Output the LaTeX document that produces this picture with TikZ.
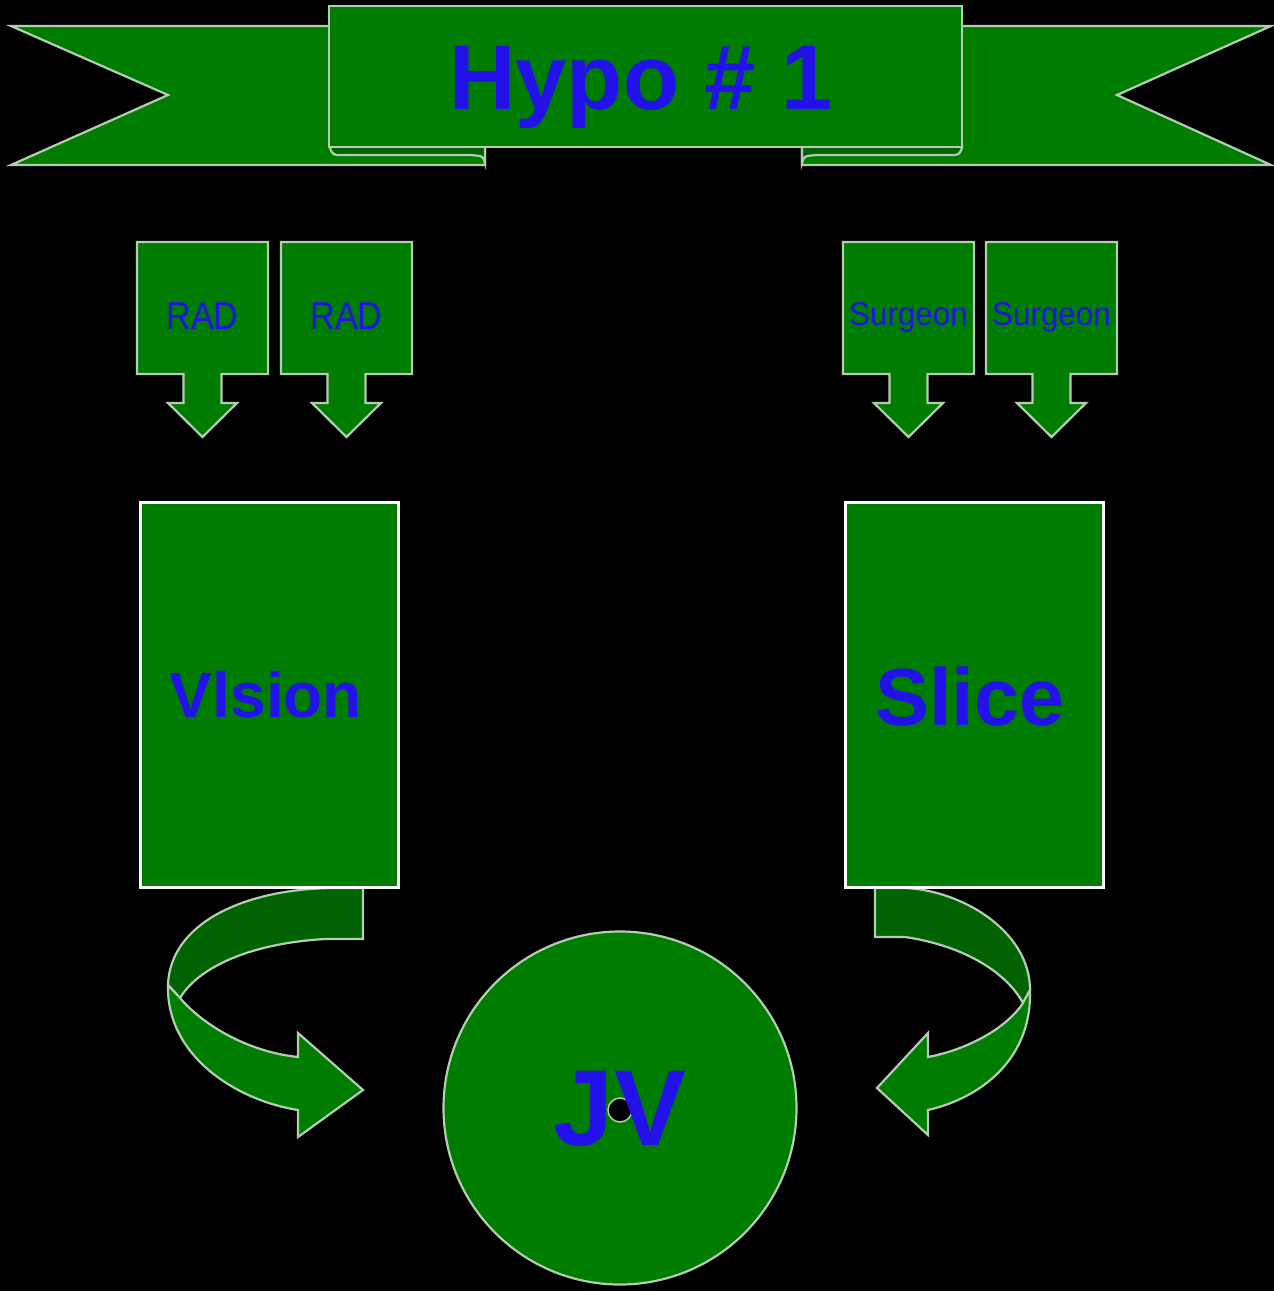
\documentclass[tikz,border=0pt]{standalone}
\usepackage{fontspec}
\usepackage{graphicx}
\setmainfont{Liberation Sans}
\definecolor{leaf}{RGB}{0,125,0}
\definecolor{leafdark}{RGB}{0,98,0}
\definecolor{rim}{RGB}{178,205,178}
\definecolor{ink}{RGB}{34,17,232}
\tikzset{
  panel/.style={fill=leaf, draw=rim, line width=2.2pt, line join=miter},
  back/.style={fill=leafdark, draw=rim, line width=2.2pt, line join=miter},
  bigbox/.style={rectangle, fill=leaf, draw=white, line width=3pt,
    minimum width=258pt, minimum height=385pt, inner sep=0pt},
  ink text/.style={text=ink, inner sep=0pt},
}
\newcommand{\fs}[1]{\fontsize{#1}{#1}\selectfont}
% down-pointing callout box; #1 = left edge, #2 = node name, #3 = label, #4 = label baseline
\newcommand{\callout}[4]{%
  \begin{scope}[shift={(#1,0)}]
    \filldraw[panel] (0,242) -- (131,242) -- (131,374) -- (84.5,374) -- (84.5,403)
      -- (100,403) -- (65.5,437) -- (31,403) -- (46.5,403) -- (46.5,374) -- (0,374) -- cycle;
    \node[ink text, anchor=base] (#2) at (65.5,#4) {#3};
  \end{scope}}
\begin{document}
\begin{tikzpicture}[x=1pt, y=-1pt]
  \useasboundingbox (0,0) rectangle (1274,1291);
  \fill[black] (0,0) rectangle (1274,1291);

  % ribbon banner: tails, folds, front band
  \filldraw[panel] (11,26) -- (485,26) -- (485,165) -- (11,165) -- (168,95) -- cycle;
  \filldraw[panel] (1271,26) -- (802,26) -- (802,165) -- (1271,165) -- (1117,95) -- cycle;
  \filldraw[back] (330,146) -- (485,146) -- (485,163) .. controls (483,156) .. (470,155)
    -- (342,155) .. controls (333,155) .. (330,148) -- cycle;
  \filldraw[back] (962,146) -- (802,146) -- (802,163) .. controls (804,156) .. (817,155)
    -- (950,155) .. controls (959,155) .. (962,148) -- cycle;
  \node[rectangle, fill=leaf, draw=rim, line width=2.2pt, minimum width=633pt,
    minimum height=141pt, inner sep=0pt] (band) at (645.5,76.5) {};
  \node[ink text, anchor=base] (title) at (641,109) {\fs{92}\bfseries Hypo \# 1};

  % callouts
  \callout{137}{rad1}{\scalebox{0.88}[1]{\fs{39}RAD}}{329}
  \callout{281}{rad2}{\scalebox{0.88}[1]{\fs{39}RAD}}{329}
  \callout{843}{surg1}{\scalebox{0.95}[1]{\fs{33}Surgeon}}{325}
  \callout{986}{surg2}{\scalebox{0.95}[1]{\fs{33}Surgeon}}{325}

  % curved arrow on the left
  \filldraw[back] (363,888) -- (363,939) -- (325,939) .. controls (255,943) and (200,965) .. (180,998)
    -- (168,985) .. controls (170,925) and (240,890) .. (330,888) -- cycle;
  \filldraw[panel] (168,985) .. controls (166,1055) and (235,1100) .. (298,1110) -- (298,1137)
    -- (363,1090) -- (298,1033) -- (298,1057) .. controls (250,1052) and (205,1027) .. (180,998) -- cycle;

  % curved arrow on the right
  \filldraw[back] (875,888) -- (875,937) -- (905,937) .. controls (960,945) and (1005,970) .. (1023,1003)
    -- (1030,990) .. controls (1030,930) and (960,890) .. (905,888) -- cycle;
  \filldraw[panel] (1030,990) .. controls (1032,1060) and (980,1098) .. (928,1110) -- (928,1135)
    -- (877,1088) -- (928,1033) -- (928,1057) .. controls (965,1050) and (1005,1030) .. (1023,1003) -- cycle;

  % main boxes
  \node[bigbox] (vision) at (269,694.5) {};
  \node[ink text, anchor=base] (visionlbl) at (266,717) {\fs{64}\bfseries Vlsion};
  \node[bigbox] (slice) at (974,694.5) {};
  \node[ink text, anchor=base] (slicelbl) at (970,725) {\fs{81}\bfseries Slice};

  % JV circle
  \node[circle, fill=leaf, draw=rim, line width=2.2pt, minimum size=353pt, inner sep=0pt] (jv) at (620,1108) {};
  \filldraw[fill=black, draw=rim, line width=1.5pt] (620,1110) circle (12);
  \node[ink text] (jvlbl) at (620,1109) {\fs{108}\bfseries JV};
\end{tikzpicture}
\end{document}
